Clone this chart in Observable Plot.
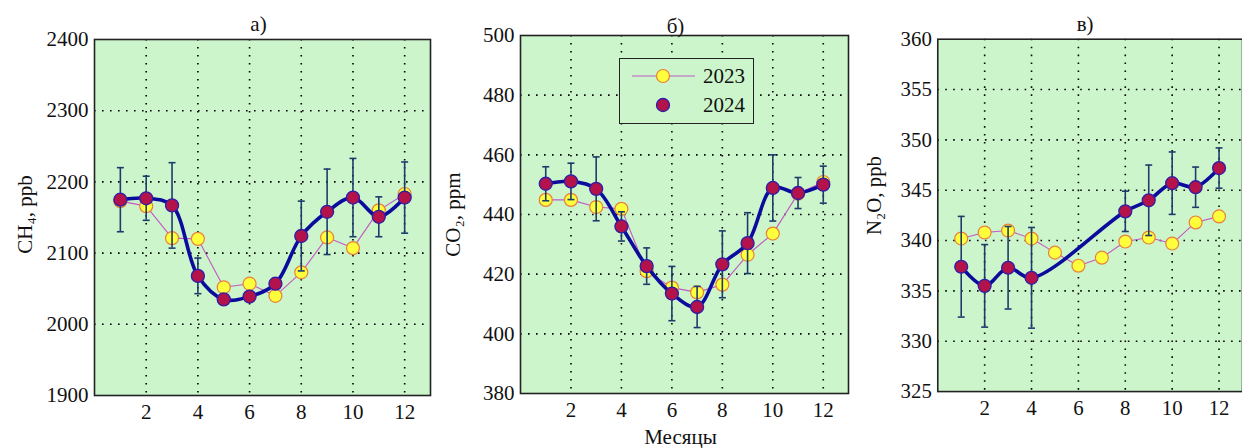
<!DOCTYPE html>
<html>
<head>
<meta charset="utf-8">
<script src="https://cdn.jsdelivr.net/npm/d3@7"></script>
<script src="https://cdn.jsdelivr.net/npm/@observablehq/plot@0.6"></script>
<style>
  html, body { margin: 0; padding: 0; background: #ffffff; overflow: hidden; }
  #wrap { position: relative; width: 1242px; height: 448px; overflow: hidden; font-family: "Liberation Serif", "DejaVu Serif", serif; }
  .pane { position: absolute; top: 0; }
  #legend { position: absolute; left: 619px; top: 58px; width: 133px; height: 64px; border: 1.5px solid #222; background: #ccf5cc; }
  #legend svg { display: block; }
  svg text { font-family: "Liberation Serif", "DejaVu Serif", serif; }
</style>
</head>
<body>
<div id="wrap">
  <div class="pane" id="pa" style="left:0px"></div>
  <div class="pane" id="pb" style="left:420px"></div>
  <div class="pane" id="pc" style="left:840px"></div>
  <div id="legend"></div>
</div>
<script>
const months = [1, 2, 3, 4, 5, 6, 7, 8, 9, 10, 11, 12];
const xTicks = [2, 4, 6, 8, 10, 12];

// CH4, ppb
const ch4_2023 = [2173, 2166, 2121, 2120, 2052, 2057, 2040, 2073, 2122, 2107, 2160, 2183];
const ch4_2024 = [2175, 2177, 2167, 2068, 2035, 2039, 2057, 2124, 2158, 2178, 2151, 2178];
const ch4_err  = [45, 31, 60, 25, 6, 6, 6, 49, 60, 55, 28, 50];
const ch4_ticks = [1900, 2000, 2100, 2200, 2300, 2400];

// CO2, ppm
const co2_2023 = [444.9, 444.9, 442.5, 441.9, 421.0, 415.5, 413.9, 416.5, 426.5, 433.6, 447.0, 450.9];
const co2_2024 = [450.3, 451.1, 448.6, 436.0, 422.7, 413.5, 409.0, 423.3, 430.4, 448.9, 447.2, 450.0];
const co2_err  = [5.7, 6.1, 10.7, 4.9, 6.1, 9.1, 6.9, 11.2, 10.2, 11.1, 5.2, 6.2];
const co2_ticks = [380, 400, 420, 440, 460, 480, 500];

// N2O, ppb
const n2o_2023 = [340.2, 340.8, 341.0, 340.2, 338.8, 337.5, 338.3, 339.9, 340.3, 339.7, 341.8, 342.4];
const n2o_2024 = [337.4, 335.5, 337.3, 336.3, null, null, null, 342.9, 344.0, 345.7, 345.3, 347.2];
const n2o_err  = [5.0, 4.1, 4.1, 5.0, null, null, null, 2.0, 3.5, 3.1, 2.0, 2.0];
const n2o_ticks = [325, 330, 335, 340, 345, 350, 355, 360];

const titles = ["а)", "б)", "в)"];
const yLabels = ["CH₄, ppb", "CO₂, ppm", "N₂O, ppb"];
const xLabel = "Месяцы";
const years = ["2023", "2024"];

const FONT = "'Liberation Serif', 'DejaVu Serif', serif";
const FS = 21;
const BG = "#ccf5cc";
const C23_LINE = "#c458c4", C23_FILL = "#ffff3c", C23_STROKE = "#e8803c";
const C24_LINE = "#0c0c9c", C24_FILL = "#b3124a", C24_STROKE = "#2e1ea6";
const ERR = "#1c3c6c";

const capSymbol = {
  draw(ctx, size) {
    const w = Math.sqrt(size / Math.PI);
    ctx.moveTo(-w, 0);
    ctx.lineTo(w, 0);
  }
};

function rows(v23, v24, err) {
  const a = months.map((m, i) => ({m, v: v23[i]}));
  const b = months.map((m, i) => ({m, v: v24[i], lo: v24[i] == null ? null : v24[i] - err[i], hi: v24[i] == null ? null : v24[i] + err[i]}))
    .filter(d => d.v != null);
  return [a, b];
}

function panel(o) {
  const [r23, r24] = rows(o.v23, o.v24, o.err);
  const yMin = o.yTicks[0], yMax = o.yTicks[o.yTicks.length - 1];
  const inner = o.yTicks.slice(1, -1);
  const txt = {fill: "#111", fontFamily: FONT, fontSize: FS};
  const marks = [
    Plot.frame({fill: BG}),
    Plot.gridX(xTicks, {stroke: "#000", strokeOpacity: 1, strokeWidth: 1.6, strokeDasharray: "1.6,6.4"}),
    Plot.gridY(inner, {stroke: "#000", strokeOpacity: 1, strokeWidth: 1.6, strokeDasharray: "1.6,6.4"}),
    Plot.axisX(xTicks, {tickSize: 0, tickPadding: 9, label: null, tickFormat: d => String(d), ...txt}),
    Plot.axisY(o.yTicks, {tickSize: 0, tickPadding: 6, label: null, tickFormat: d => String(d), ...txt}),
    Plot.line(r23, {x: "m", y: "v", stroke: C23_LINE, strokeWidth: 1.1}),
    Plot.dot(r23, {x: "m", y: "v", r: 6.5, fill: C23_FILL, stroke: C23_STROKE, strokeWidth: 1.2}),
    Plot.line(r24, {x: "m", y: "v", stroke: C24_LINE, strokeWidth: 3.6, curve: "catmull-rom"}),
    Plot.ruleX(r24, {x: "m", y1: "lo", y2: "hi", stroke: ERR, strokeWidth: 1.6}),
    Plot.dot(r24, {x: "m", y: "lo", symbol: capSymbol, r: 3.5, stroke: ERR, strokeWidth: 1.6, fill: "none"}),
    Plot.dot(r24, {x: "m", y: "hi", symbol: capSymbol, r: 3.5, stroke: ERR, strokeWidth: 1.6, fill: "none"}),
    Plot.dot(r24, {x: "m", y: "v", r: 6.5, fill: C24_FILL, stroke: C24_STROKE, strokeWidth: 1.3}),
    Plot.frame({stroke: "#222", strokeWidth: 1.6}),
    Plot.text([o.title], {frameAnchor: "top", lineAnchor: "middle", textAnchor: "middle", dx: o.titleDx, dy: o.titleDy, text: d => d, ...txt}),
    Plot.text([o.yLabel], {frameAnchor: "left", lineAnchor: "middle", textAnchor: "middle", rotate: -90, dx: o.labelDx, dy: o.labelDy, text: d => d, ...txt})
  ];
  if (o.xLabel) marks.push(Plot.text([o.xLabel], {frameAnchor: "bottom", lineAnchor: "middle", textAnchor: "middle", dx: -4, dy: 44, text: d => d, ...txt}));
  return Plot.plot({
    width: o.width, height: 448,
    marginLeft: o.ml, marginRight: o.mr, marginTop: o.mt, marginBottom: o.mb,
    style: {fontFamily: FONT, fontSize: FS + "px", background: "transparent", overflow: "visible"},
    x: {domain: [0, 13]},
    y: {domain: [yMin, yMax]},
    marks
  });
}

document.getElementById("pa").append(panel({
  width: 440, ml: 94, mr: 10, mt: 39, mb: 53,
  v23: ch4_2023, v24: ch4_2024, err: ch4_err, yTicks: ch4_ticks,
  title: titles[0], titleDx: -4, titleDy: -15,
  yLabel: yLabels[0], labelDx: -69, labelDy: -3
}));
document.getElementById("pb").append(panel({
  width: 430, ml: 100, mr: 2, mt: 35, mb: 55,
  v23: co2_2023, v24: co2_2024, err: co2_err, yTicks: co2_ticks,
  title: titles[1], titleDx: -9, titleDy: -9,
  yLabel: yLabels[1], labelDx: -67, labelDy: 0, xLabel
}));
document.getElementById("pc").append(panel({
  width: 405, ml: 98, mr: 0, mt: 39, mb: 54,
  v23: n2o_2023, v24: n2o_2024, err: n2o_err, yTicks: n2o_ticks,
  title: titles[2], titleDx: -5, titleDy: -15,
  yLabel: yLabels[2], labelDx: -64, labelDy: -20
}));

// legend (inside panel б)
const lg = d3.select("#legend").append("svg").attr("width", 133).attr("height", 64)
  .style("font-family", FONT).style("font-size", FS + "px");
lg.append("line").attr("x1", 12).attr("x2", 75).attr("y1", 17).attr("y2", 17).attr("stroke", C23_LINE).attr("stroke-width", 1.1);
lg.append("circle").attr("cx", 43).attr("cy", 17).attr("r", 6.5).attr("fill", C23_FILL).attr("stroke", C23_STROKE).attr("stroke-width", 1.2);
lg.append("circle").attr("cx", 43).attr("cy", 46).attr("r", 6.5).attr("fill", C24_FILL).attr("stroke", C24_STROKE).attr("stroke-width", 1.3);
lg.append("text").attr("x", 83).attr("y", 17).attr("dy", "0.35em").attr("fill", "#111").text(years[0]);
lg.append("text").attr("x", 83).attr("y", 46).attr("dy", "0.35em").attr("fill", "#111").text(years[1]);
</script>
</body>
</html>
